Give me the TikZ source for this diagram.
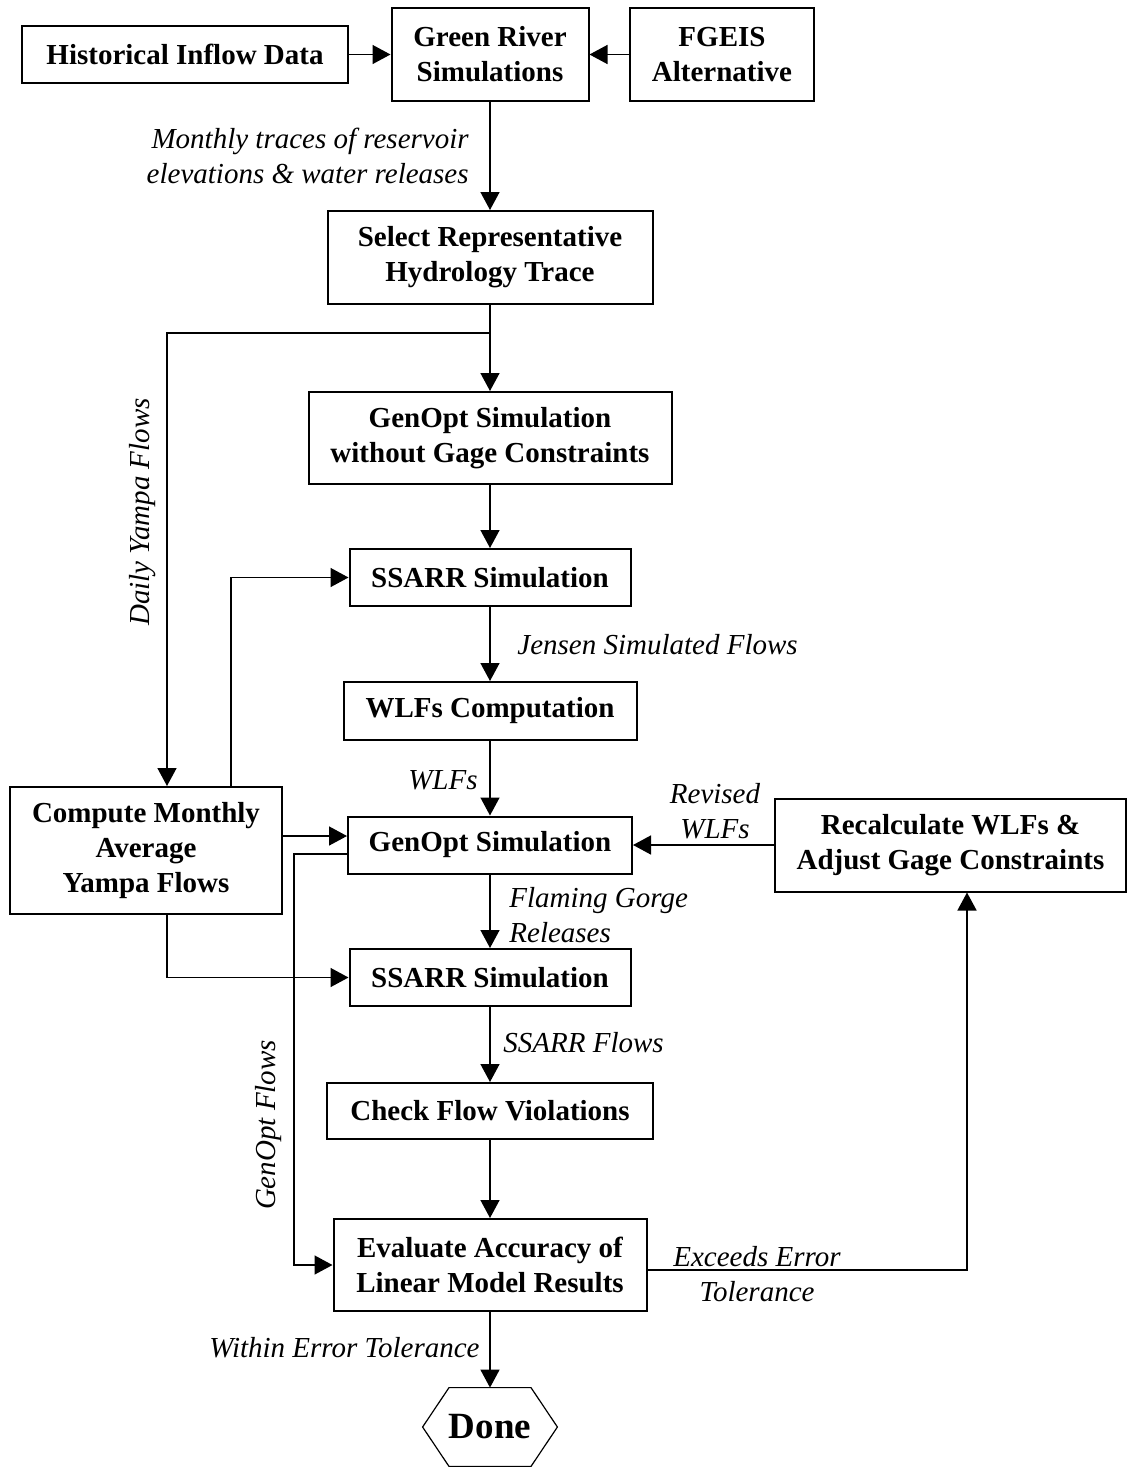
\documentclass[tikz,border=0pt]{standalone}
\usepackage{fontspec}
\setmainfont{Liberation Serif}
\usetikzlibrary{arrows.meta}
\begin{document}
\begin{tikzpicture}[x=0.5pt,y=-0.5pt,
  box/.style={draw, line width=1pt, inner sep=0pt, align=center,
    font=\bfseries\fontsize{14.5}{17.5}\selectfont},
  conn/.style={line width=0.75pt, -{Triangle[length=9pt,width=9.5pt]}},
  lab/.style={inner sep=0pt, font=\itshape\fontsize{14.5}{17.5}\selectfont},
  hexline/.style={line width=0.6pt, line join=miter}]
\useasboundingbox (0,0) rectangle (1127,1467);

% boxes
\node[box, minimum width=163pt, minimum height=28.5pt] (hist) at (185,54.5) {Historical Inflow Data};
\node[box, minimum width=98.5pt, minimum height=46.5pt] (green) at (490,54.5) {Green River\\Simulations};
\node[box, minimum width=92pt, minimum height=46.5pt] (fgeis) at (722,54.5) {FGEIS\\Alternative};
\node[box, minimum width=162.5pt, minimum height=46.5pt] (select) at (490,257.5) {Select Representative\\Hydrology Trace};
\node[box, minimum width=181.5pt, minimum height=46pt] (genopt0) at (490,438) {GenOpt Simulation\\without Gage Constraints};
\node[box, minimum width=140.5pt, minimum height=28.5pt] (ssarr1) at (490,577.5) {SSARR Simulation};
\node[box, minimum width=146.5pt, minimum height=29pt] (wlfs) at (490,711) {WLFs Computation};
\node[box, minimum width=136pt, minimum height=63.5pt] (compute) at (146,850.5) {Compute Monthly\\Average\\Yampa Flows};
\node[box, minimum width=142pt, minimum height=28.5pt] (genopt) at (490,845) {GenOpt Simulation};
\node[box, minimum width=175.5pt, minimum height=46.5pt] (recalc) at (950.5,845) {Recalculate WLFs \&\\Adjust Gage Constraints};
\node[box, minimum width=140.5pt, minimum height=28.5pt] (ssarr2) at (490,977.5) {SSARR Simulation};
\node[box, minimum width=163pt, minimum height=28pt] (check) at (490,1111) {Check Flow Violations};
\node[box, minimum width=156.5pt, minimum height=46pt] (eval) at (490,1265) {Evaluate Accuracy of\\Linear Model Results};
\node[inner sep=0pt, minimum width=67pt, minimum height=39pt,
      font=\bfseries\fontsize{18.5}{22}\selectfont] (done) at (490,1427) {Done};
\draw[hexline] (done.west) -- ([xshift=-20.5pt]done.north) -- ([xshift=20.5pt]done.north)
  -- (done.east) -- ([xshift=20.5pt]done.south) -- ([xshift=-20.5pt]done.south) -- cycle;

% labels
\node[lab, anchor=east, align=right] (lmonthly) at (469,155.5) {Monthly traces of reservoir\\elevations \& water releases};
\node[lab, rotate=90] (ldaily) at (143,512) {Daily Yampa Flows};
\node[lab, anchor=west] (ljensen) at (517,645) {Jensen Simulated Flows};
\node[lab, anchor=east] (lwlfs) at (478,780) {WLFs};
\node[lab, align=center] (lrevised) at (715,811) {Revised\\WLFs};
\node[lab, anchor=west, align=left] (lflaming) at (509,915.5) {Flaming Gorge\\Releases};
\node[lab, anchor=west] (lssarr) at (503,1043) {SSARR Flows};
\node[lab, rotate=90] (lgenopt) at (269,1125) {GenOpt Flows};
\node[lab, align=center] (lexceeds) at (757,1274) {Exceeds Error\\Tolerance};
\node[lab, anchor=east] (lwithin) at (480,1348) {Within Error Tolerance};

% connectors
\coordinate (br) at (490,333);
\draw[conn] (hist) -- (green);
\draw[conn] (fgeis) -- (green);
\draw[conn] (green) -- (select);
\draw[conn] (select) -- (genopt0);
\draw[conn] (br) -| ([xshift=10.5pt]compute.north);
\draw[conn] (genopt0) -- (ssarr1);
\draw[conn] ([xshift=42.5pt]compute.north) |- (ssarr1.west);
\draw[conn] (ssarr1) -- (wlfs);
\draw[conn] (wlfs) -- (genopt);
\draw[conn] ([yshift=7.25pt]compute.east) -- ([yshift=7.25pt]compute.east -| genopt.west);
\draw[conn] (recalc) -- (genopt);
\draw[conn] (genopt) -- (ssarr2);
\draw[conn] ([xshift=10.5pt]compute.south) |- (ssarr2.west);
\draw[conn] (ssarr2) -- (check);
\draw[conn] (check) -- (eval);
\draw[conn] ([yshift=-4.5pt]genopt.west) -- ++(-26.5pt,0) |- (eval.west);
\draw[conn] ([yshift=-2.5pt]eval.east) -| ([xshift=8.25pt]recalc.south);
\draw[conn] (eval) -- (done);
\end{tikzpicture}
\end{document}
